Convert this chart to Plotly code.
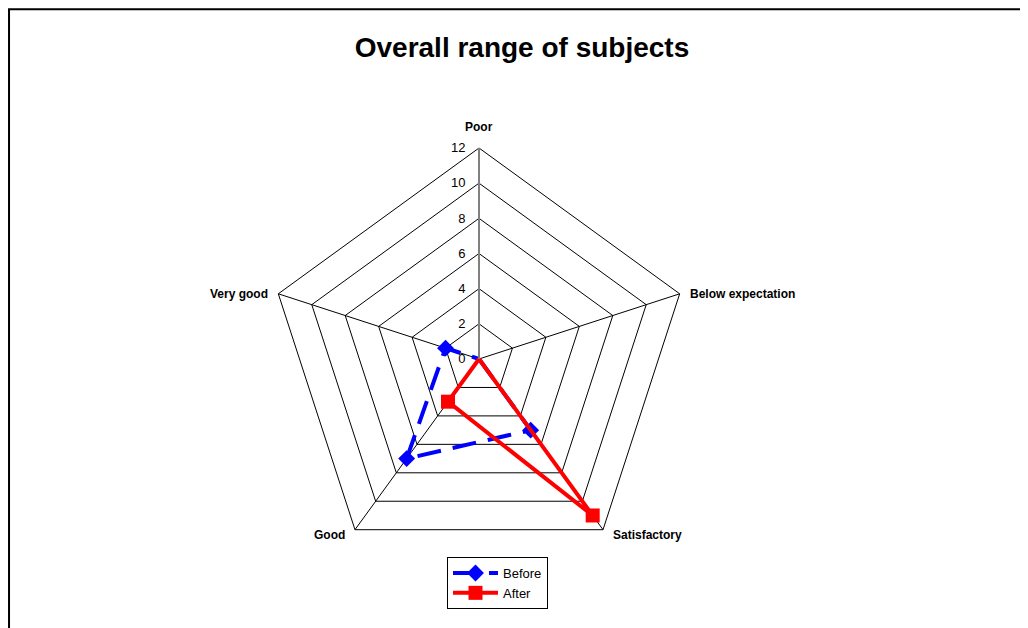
import math
import plotly.graph_objects as go

categories = ["Poor", "Below expectation", "Satisfactory", "Good", "Very good"]
before = [0, 0, 5, 7, 2]
after = [0, 0, 11, 3, 0]
radial_ticks = [0, 2, 4, 6, 8, 10, 12]

W, H = 1028, 628
OFF = 8  # page body margin shifts the figure by 8px

# close the polygons
cats = categories + categories[:1]

fig = go.Figure()

fig.add_trace(go.Scatterpolar(
    r=before + before[:1],
    theta=cats,
    name="Before",
    mode="lines+markers",
    line=dict(color="#0000FF", width=4, dash="24px,12px"),
    marker=dict(symbol="diamond", size=13, color="#0000FF"),
))

fig.add_trace(go.Scatterpolar(
    r=after + after[:1],
    theta=cats,
    name="After",
    mode="lines+markers",
    line=dict(color="#FF0000", width=4),
    marker=dict(symbol="square", size=14, color="#FF0000"),
))

cx, cy, rad = 479 - OFF, 359 - OFF, 211

# category labels placed just outside the polygon vertices
annotations = []
n = len(categories)
for i, c in enumerate(categories):
    a = math.radians(90 - i * 360 / n)
    vx = cx + rad * math.cos(a)
    vy = cy - rad * math.sin(a)
    if i == 0:
        xa, ya, xs, ys = "center", "bottom", 0, 12
    elif math.cos(a) > 0:
        xa, ya, xs, ys = "left", "middle", 8, (0 if math.sin(a) > 0 else -5)
    else:
        xa, ya, xs, ys = "right", "middle", -8, (0 if math.sin(a) > 0 else -5)
    annotations.append(dict(
        text="<b>%s</b>" % c, x=vx / W, y=1 - vy / H,
        xref="paper", yref="paper", xanchor=xa, yanchor=ya,
        xshift=xs, yshift=ys, showarrow=False, font=dict(size=12),
    ))

fig.update_layout(
    width=W,
    height=H,
    margin=dict(l=0, r=0, t=0, b=0),
    paper_bgcolor="white",
    font=dict(family="Liberation Sans, Arial, sans-serif", color="black"),
    title=dict(
        text="<b>Overall range of subjects</b>",
        font=dict(size=28, color="black"),
        x=(522 - OFF) / W, xanchor="center",
        y=1 - (47 - OFF) / H, yanchor="middle",
    ),
    polar=dict(
        domain=dict(x=[(cx - rad) / W, (cx + rad) / W],
                    y=[1 - (cy + rad) / H, 1 - (cy - rad) / H]),
        gridshape="linear",
        bgcolor="white",
        radialaxis=dict(
            range=[0, 12],
            tickvals=radial_ticks,
            angle=90,
            tickangle=90,
            side="counterclockwise",
            showline=True,
            linecolor="#808080",
            linewidth=2,
            gridcolor="black",
            gridwidth=1,
            ticks="outside",
            ticklen=8,
            tickcolor="rgba(0,0,0,0)",
            tickfont=dict(size=13),
        ),
        angularaxis=dict(
            rotation=90,
            direction="clockwise",
            linecolor="black",
            linewidth=1,
            gridcolor="black",
            gridwidth=1,
            ticks="",
            showticklabels=False,
            categoryarray=categories,
        ),
    ),
    annotations=annotations,
    showlegend=True,
    legend=dict(
        x=(447 - OFF) / W, xanchor="left",
        y=1 - (557 - OFF) / H, yanchor="top",
        bordercolor="black",
        borderwidth=1,
        bgcolor="white",
        font=dict(size=13),
        itemwidth=45,
        tracegroupgap=0,
    ),
    shapes=[dict(
        type="rect", xref="paper", yref="paper",
        x0=0.001, x1=1.01, y0=-0.01, y1=0.998,
        line=dict(color="black", width=2),
    )],
)

fig.write_html("out.html")
